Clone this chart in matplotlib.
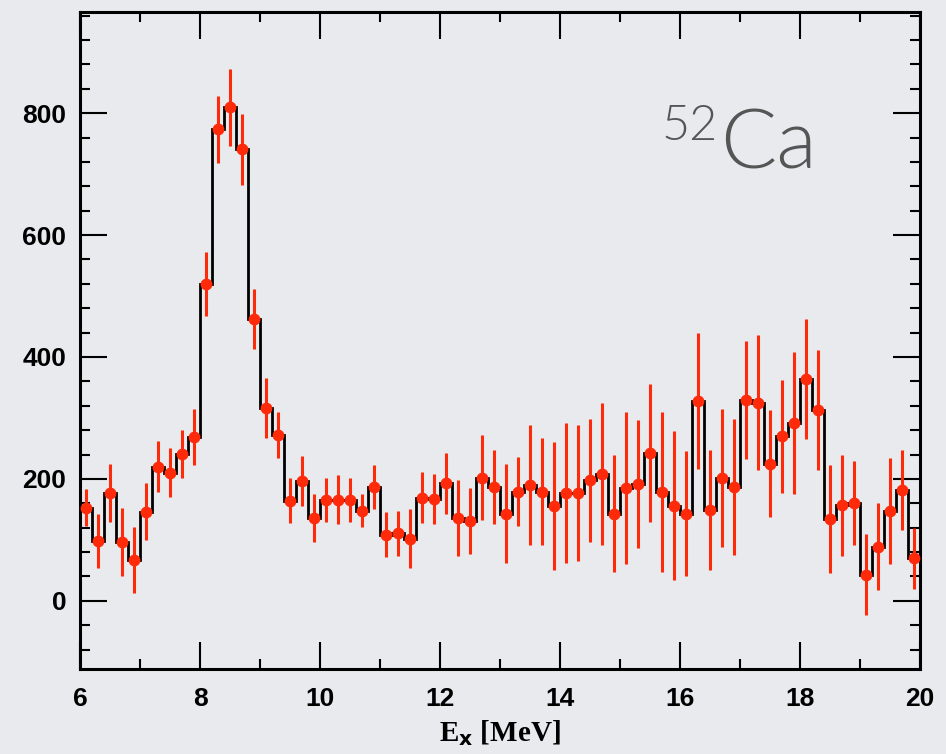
"""
52Ca excitation-energy spectrum: histogram with data points and error bars.
"""

import numpy as np
import matplotlib
matplotlib.use('Agg')
import matplotlib.pyplot as plt
from matplotlib.ticker import MultipleLocator

# bin edges: 0.2 MeV bins from 6 to 20 MeV
bin_edges = np.linspace(6.0, 20.0, 71)

counts = [153, 98, 177, 97, 67, 146, 220, 210, 241, 269,
          520, 774, 810, 741, 462, 316, 272, 164, 197, 136,
          166, 166, 166, 148, 187, 108, 111, 102, 169, 167,
          193, 136, 131, 202, 187, 143, 179, 190, 179, 156,
          177, 177, 198, 208, 143, 185, 192, 243, 179, 156,
          143, 328, 149, 202, 187, 330, 325, 225, 270, 292,
          364, 313, 134, 157, 161, 43, 89, 148, 182, 70]

errors = [31, 44, 48, 56, 54, 47, 42, 40, 40, 46,
          53, 55, 63, 58, 49, 49, 38, 37, 41, 40,
          36, 40, 36, 27, 36, 37, 37, 48, 42, 41,
          50, 62, 54, 70, 61, 81, 57, 99, 88, 105,
          115, 112, 101, 117, 96, 125, 105, 113, 131, 122,
          102, 111, 99, 113, 112, 97, 111, 88, 93, 116,
          98, 98, 89, 83, 69, 67, 71, 87, 66, 50]

bg = '#e8eaee'
red = '#ff2a0a'

fig = plt.figure(figsize=(9.46, 7.54), dpi=100, facecolor=bg)
ax = fig.add_axes([0.0846, 0.1127, 0.888, 0.8713])
ax.set_facecolor(bg)

centers = 0.5 * (bin_edges[:-1] + bin_edges[1:])

# histogram outline
ax.stairs(counts, bin_edges, color='black', linewidth=2.0, zorder=2)

# data points with error bars
ax.errorbar(centers, counts, yerr=errors, fmt='o', color=red, ecolor=red,
            elinewidth=2.2, markersize=7.5, capsize=0, zorder=3)

ax.set_xlim(6, 20)
ax.set_ylim(-112, 966)

ax.xaxis.set_major_locator(MultipleLocator(2))
ax.xaxis.set_minor_locator(MultipleLocator(1))
ax.yaxis.set_major_locator(MultipleLocator(200))
ax.yaxis.set_minor_locator(MultipleLocator(40))

ax.tick_params(which='both', direction='in', top=True, right=True,
               width=1.5, color='black')
ax.tick_params(which='major', length=19.5)
ax.tick_params(which='minor', length=7.5)
ax.tick_params(axis='y', labelsize=19, pad=10)
ax.tick_params(axis='x', labelsize=19, pad=13)
for lab in ax.get_xticklabels() + ax.get_yticklabels():
    lab.set_family('Liberation Sans')
    lab.set_fontweight('bold')

for sp in ax.spines.values():
    sp.set_linewidth(2.2)

ax.set_xlabel(r'E$_{\mathbf{x}}$ [MeV]', family='Liberation Serif',
              fontsize=21, fontweight='bold', labelpad=5)

# nucleus label
ax.text(0.692, 0.805, '52', transform=ax.transAxes, fontsize=35,
        color='#555555', family='Lato', fontweight=300, ha='left', va='baseline')
ax.text(0.762, 0.7626, 'Ca', transform=ax.transAxes, fontsize=60,
        color='#555555', family='Lato', fontweight=300, ha='left', va='baseline')

fig.savefig('out.png', dpi=100, facecolor=bg)
